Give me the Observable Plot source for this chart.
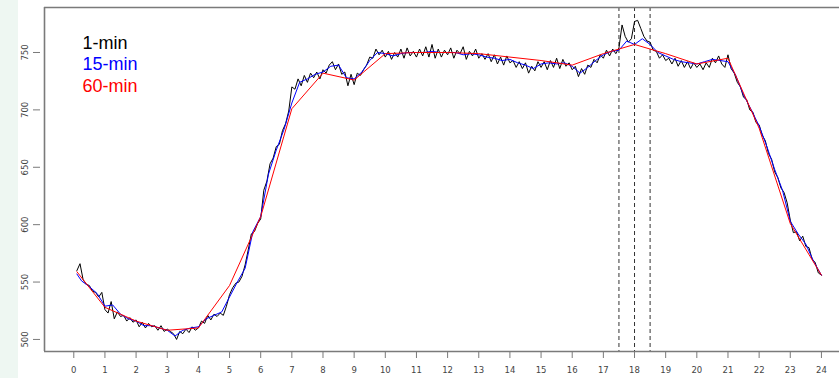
<!DOCTYPE html>
<html>
<head>
<meta charset="utf-8">
<script src="https://cdn.jsdelivr.net/npm/d3@7"></script>
<script src="https://cdn.jsdelivr.net/npm/@observablehq/plot@0.6"></script>
<style>
  html, body { margin: 0; padding: 0; }
  body { background: linear-gradient(to right, #eef7f2 18px, #ffffff 18px); width: 839px; height: 378px; overflow: hidden; }
  #chart svg { display: block; }
</style>
</head>
<body>
<div id="chart"></div>
<script>
// ---- data ----
const xTicks = d3.range(0, 25);
const yTicks = [500, 550, 600, 650, 700, 750];
const dashHours = [17.5, 18, 18.5];
const legendLabels = ["1-min", "15-min", "60-min"];
const legendColors = ["#000000", "#0000ff", "#ff0000"];

const oneMinValues = [
  560,566,552,548,547,542,541,537,541,526,
  523,533,518,524,520,521,516,519,515,517,
  511,515,510,514,511,512,508,512,507,509,
  507,505,500,507,505,509,506,511,508,510,
  516,514,521,517,522,520,523,521,529,539,
  545,549,550,555,565,578,592,594,601,605,
  630,638,653,658,668,670,682,688,699,720,
  718,727,721,730,724,732,728,733,727,735,
  732,739,742,735,740,731,733,721,731,722,
  732,730,735,739,746,745,753,748,752,746,
  751,744,750,746,753,745,754,747,751,746,
  753,747,755,746,757,745,753,746,752,748,
  754,745,752,749,755,744,751,747,753,745,
  749,744,749,742,748,740,746,739,747,741,
  743,737,742,736,741,732,738,734,742,737,
  742,735,743,737,745,736,744,738,741,735,
  738,729,736,731,739,737,744,741,748,745,
  752,747,753,749,754,774,764,759,762,777,
  778,771,764,760,759,752,751,745,748,743,
  745,740,745,738,743,737,742,736,741,737,
  740,735,741,737,745,741,747,740,737,748,
  736,732,724,720,711,709,700,698,689,687,
  678,673,662,657,646,641,632,628,619,604,
  593,594,586,590,581,580,570,567,558,556
];
const oneMinHours = oneMinValues.map((_, i) => (i + 1) / 10);

// 15-min series
const fifteenHours = [0.1].concat(d3.range(1, 97).map(k => k * 0.25));
const fifteenValues = [
  557,
  551,546,540,529,
  530,522,518,516,
  512,512,510,508,
  503,508,510,511,
  518,521,524,537,
  550,562,594,607,
  644,665,683,706,
  724,727,731,733,
  738,739,728,727,
  733,743,750,749,
  747,749,750,750,
  750,751,750,750,
  750,748,749,748,
  746,745,743,744,
  741,739,736,740,
  741,740,741,738,
  732,737,743,748,
  751,752,760,757,
  762,757,750,747,
  744,742,741,740,
  742,744,743,742,
  730,713,700,686,
  668,648,630,603,
  592,583,568,556
];

// 60-min series
const sixtyHours = [0.1].concat(d3.range(1, 25));
const sixtyValues = [559,528,516,508,510,547,607,701,732,726,749,750,750,749,746,743,739,749,757,749,740,745,684,601,556];

const toRows = (hs, vs) => hs.map((h, i) => ({h, v: vs[i]}));
const oneMin = toRows(oneMinHours, oneMinValues);
const fifteen = toRows(fifteenHours, fifteenValues);
const sixty = toRows(sixtyHours, sixtyValues);

const xDomain = [-0.94, 24.58];
const yDomain = [489.5, 789.2];
const boxColor = "#7a7a7a";
const tickFont = "DejaVu Sans, Verdana, sans-serif";

const chart = Plot.plot({
  width: 839,
  height: 378,
  marginLeft: 44,
  marginRight: 0,
  marginTop: 7,
  marginBottom: 27,
  style: {background: "transparent", overflow: "visible"},
  x: {domain: xDomain},
  y: {domain: yDomain},
  marks: [
    Plot.ruleX(dashHours, {stroke: "#333", strokeWidth: 1, strokeDasharray: "4,3"}),
    Plot.line(oneMin, {x: "h", y: "v", stroke: "#000000", strokeWidth: 1}),
    Plot.line(fifteen, {x: "h", y: "v", stroke: "#0000ff", strokeWidth: 1}),
    Plot.line(sixty, {x: "h", y: "v", stroke: "#ff0000", strokeWidth: 1}),
    Plot.ruleX([xDomain[0]], {stroke: boxColor, strokeWidth: 1.6}),
    Plot.ruleY([yDomain[0]], {stroke: boxColor, strokeWidth: 1.6}),
    Plot.ruleY([yDomain[1]], {stroke: boxColor, strokeWidth: 1.6}),
    Plot.axisX({ticks: xTicks, tickSize: 7, tickPadding: 8, stroke: boxColor, fill: "#444",
      fontSize: 8.5, fontFamily: tickFont, label: null, tickFormat: d => String(d)}),
    Plot.axisY({ticks: yTicks, tickSize: 7, tickPadding: 6, tickRotate: -90, stroke: boxColor, fill: "#444",
      fontSize: 8.5, fontFamily: tickFont, label: null, tickFormat: d => String(d), dx: -4}),
    ...legendLabels.map((t, i) => Plot.text([t], {
      text: d => d, frameAnchor: "top-left", textAnchor: "start", lineAnchor: "bottom",
      dx: 38, dy: 41 + i * 21.5, fill: legendColors[i], fontSize: 18,
      fontFamily: "Liberation Sans, Arial, sans-serif"
    }))
  ]
});
document.getElementById("chart").appendChild(chart);
</script>
</body>
</html>
